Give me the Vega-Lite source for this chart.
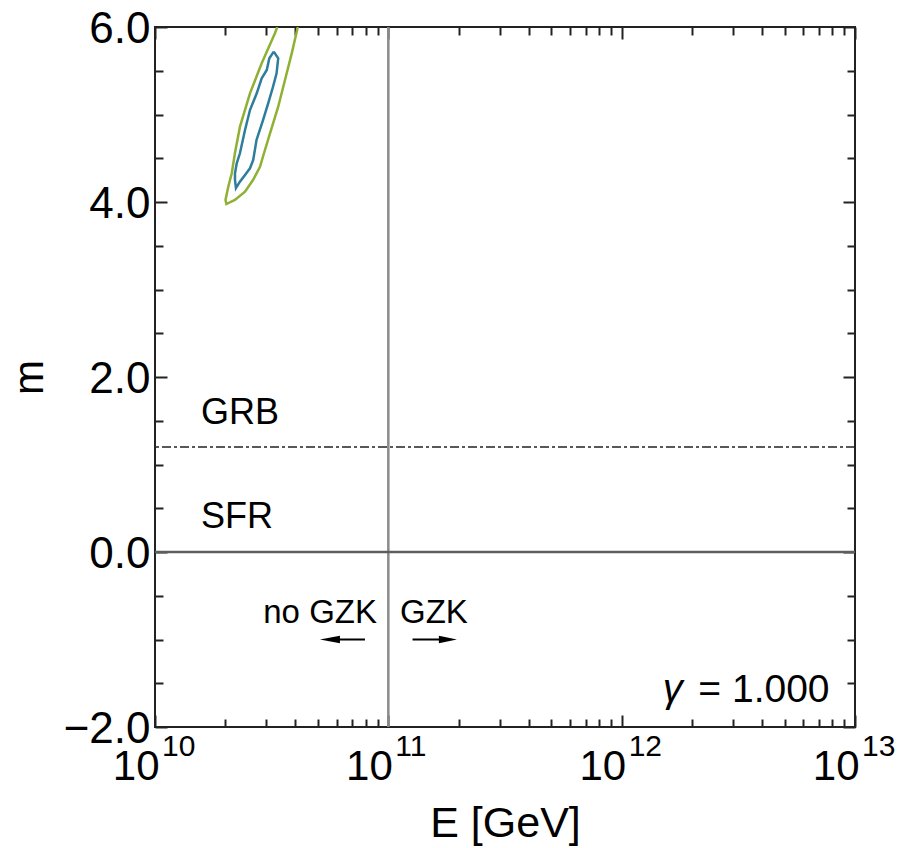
{
  "$schema": "https://vega.github.io/schema/vega-lite/v6.json",
  "width": 700,
  "height": 700,
  "autosize": "none",
  "padding": {"left": 155, "top": 27, "right": 44, "bottom": 121},
  "background": "white",
  "config": {
    "view": {"stroke": "#222", "strokeWidth": 2},
    "font": "Liberation Sans",
    "axis": {"labelFont": "Liberation Sans", "titleFont": "Liberation Sans", "labelColor": "#000", "titleColor": "#000", "grid": false, "domain": false}
  },
  "datasets": {
    "contours": [
      {"c": "outer", "i": 0, "E": 3.342e10, "m": 6.0},
      {"c": "outer", "i": 1, "E": 3.266e10, "m": 5.928},
      {"c": "outer", "i": 2, "E": 2.866e10, "m": 5.585},
      {"c": "outer", "i": 3, "E": 2.553e10, "m": 5.242},
      {"c": "outer", "i": 4, "E": 2.313e10, "m": 4.861},
      {"c": "outer", "i": 5, "E": 2.20e10, "m": 4.557},
      {"c": "outer", "i": 6, "E": 2.133e10, "m": 4.328},
      {"c": "outer", "i": 7, "E": 2.061e10, "m": 4.175},
      {"c": "outer", "i": 8, "E": 2.005e10, "m": 4.023},
      {"c": "outer", "i": 9, "E": 2.023e10, "m": 3.977},
      {"c": "outer", "i": 10, "E": 2.20e10, "m": 4.023},
      {"c": "outer", "i": 11, "E": 2.431e10, "m": 4.118},
      {"c": "outer", "i": 12, "E": 2.63e10, "m": 4.251},
      {"c": "outer", "i": 13, "E": 2.818e10, "m": 4.403},
      {"c": "outer", "i": 14, "E": 2.931e10, "m": 4.557},
      {"c": "outer", "i": 15, "E": 3.111e10, "m": 4.785},
      {"c": "outer", "i": 16, "E": 3.373e10, "m": 5.089},
      {"c": "outer", "i": 17, "E": 3.606e10, "m": 5.394},
      {"c": "outer", "i": 18, "E": 3.855e10, "m": 5.699},
      {"c": "outer", "i": 19, "E": 4.093e10, "m": 6.0},
      {"c": "inner", "i": 0, "E": 3.228e10, "m": 5.718},
      {"c": "inner", "i": 1, "E": 3.373e10, "m": 5.642},
      {"c": "inner", "i": 2, "E": 3.319e10, "m": 5.471},
      {"c": "inner", "i": 3, "E": 3.206e10, "m": 5.318},
      {"c": "inner", "i": 4, "E": 3.055e10, "m": 5.128},
      {"c": "inner", "i": 5, "E": 2.904e10, "m": 4.937},
      {"c": "inner", "i": 6, "E": 2.723e10, "m": 4.709},
      {"c": "inner", "i": 7, "E": 2.636e10, "m": 4.48},
      {"c": "inner", "i": 8, "E": 2.553e10, "m": 4.385},
      {"c": "inner", "i": 9, "E": 2.431e10, "m": 4.309},
      {"c": "inner", "i": 10, "E": 2.312e10, "m": 4.232},
      {"c": "inner", "i": 11, "E": 2.223e10, "m": 4.16},
      {"c": "inner", "i": 12, "E": 2.202e10, "m": 4.251},
      {"c": "inner", "i": 13, "E": 2.202e10, "m": 4.328},
      {"c": "inner", "i": 14, "E": 2.240e10, "m": 4.442},
      {"c": "inner", "i": 15, "E": 2.312e10, "m": 4.557},
      {"c": "inner", "i": 16, "E": 2.431e10, "m": 4.823},
      {"c": "inner", "i": 17, "E": 2.553e10, "m": 5.051},
      {"c": "inner", "i": 18, "E": 2.729e10, "m": 5.242},
      {"c": "inner", "i": 19, "E": 2.866e10, "m": 5.414},
      {"c": "inner", "i": 20, "E": 3.013e10, "m": 5.509},
      {"c": "inner", "i": 21, "E": 3.090e10, "m": 5.642},
      {"c": "inner", "i": 22, "E": 3.228e10, "m": 5.718}
    ],
    "vline": [{"E": 1e11}],
    "zeroline": [{"m": 0}],
    "dashline": [{"m": 1.2}],
    "xexp": [
      {"E": 1e10, "exp": "10"},
      {"E": 1e11, "exp": "11"},
      {"E": 1e12, "exp": "12"},
      {"E": 1e13, "exp": "13"}
    ],
    "srcText": [
      {"E": 1.575e10, "m": 1.46, "label": "GRB"},
      {"E": 1.575e10, "m": 0.27, "label": "SFR"}
    ],
    "gzkText": [{"E": 1.122e11, "m": -0.815, "label": "GZK"}],
    "noGzkText": [{"E": 8.94e10, "m": -0.815, "label": "no GZK"}],
    "valText": [{"E": 7.78e12, "m": -1.714, "label": "= 1.000"}],
    "gammaText": [{"E": 1.50e12, "m": -1.714, "label": "γ"}],
    "shafts": [
      {"E1": 5.62e10, "E2": 7.94e10, "m": -1.0},
      {"E1": 1.27e11, "E2": 1.80e11, "m": -1.0}
    ],
    "headLeft": [{"E": 5.62e10, "m": -1.0}],
    "headRight": [{"E": 1.80e11, "m": -1.0}]
  },
  "resolve": {"axis": {"x": "independent", "y": "independent"}},
  "layer": [
    {
      "data": {"name": "vline"},
      "mark": {"type": "rule", "color": "#8a8a8a", "strokeWidth": 2.5},
      "encoding": {
        "x": {"field": "E", "type": "quantitative", "scale": {"type": "log", "domain": [1e10, 1e13], "nice": false}, "axis": null}
      }
    },
    {
      "data": {"name": "zeroline"},
      "mark": {"type": "rule", "color": "#5e5e5e", "strokeWidth": 2.5},
      "encoding": {
        "y": {"field": "m", "type": "quantitative", "scale": {"domain": [-2, 6], "nice": false, "zero": false}, "axis": null}
      }
    },
    {
      "data": {"name": "dashline"},
      "mark": {"type": "rule", "color": "#222222", "strokeWidth": 1.6, "strokeDash": [9, 3, 3, 3]},
      "encoding": {
        "y": {"field": "m", "type": "quantitative", "scale": {"domain": [-2, 6], "nice": false, "zero": false}, "axis": null}
      }
    },
    {
      "data": {"name": "contours"},
      "mark": {"type": "line", "strokeWidth": 2.5, "clip": true},
      "encoding": {
        "x": {"field": "E", "type": "quantitative", "scale": {"type": "log", "domain": [1e10, 1e13], "nice": false},
          "axis": {"orient": "bottom", "values": [1e10, 1e11, 1e12, 1e13], "labelExpr": "'10'", "labelAlign": "right", "labelOffset": 4, "labelBaseline": "alphabetic", "labelPadding": 52, "labelFontSize": 42, "labelFlush": false, "labelOverlap": false, "ticks": false,
            "title": "E [GeV]", "titleFontSize": 43, "titleFontWeight": "normal", "titleX": 350, "titleY": 109, "titleBaseline": "alphabetic", "titleAlign": "center"}},
        "y": {"field": "m", "type": "quantitative", "scale": {"domain": [-2, 6], "nice": false, "zero": false},
          "axis": {"orient": "left", "values": [-2, 0, 2, 4, 6], "format": ".1f", "labelFontSize": 44, "labelAlign": "right", "labelBaseline": "alphabetic", "labelOffset": 15, "labelPadding": 5, "labelFlush": false, "labelOverlap": false, "ticks": false,
            "title": "m", "titleFontSize": 42, "titleFontWeight": "normal", "titleAngle": -90, "titleX": -113, "titleY": 350, "titleBaseline": "alphabetic", "titleAlign": "center"}},
        "color": {"field": "c", "type": "nominal", "scale": {"domain": ["outer", "inner"], "range": ["#8FB032", "#2E7D9C"]}, "legend": null},
        "detail": {"field": "c"},
        "order": {"field": "i", "type": "quantitative"}
      }
    },
    {
      "data": {"name": "xexp"},
      "mark": {"type": "text", "align": "left", "baseline": "alphabetic", "fontSize": 30, "dx": 7, "dy": 29, "color": "#000"},
      "encoding": {
        "x": {"field": "E", "type": "quantitative", "scale": {"type": "log", "domain": [1e10, 1e13], "nice": false}, "axis": null},
        "y": {"datum": -2, "type": "quantitative", "scale": {"domain": [-2, 6], "nice": false, "zero": false}, "axis": null},
        "text": {"field": "exp"}
      }
    },
    {
      "data": {"name": "srcText"},
      "mark": {"type": "text", "align": "left", "baseline": "alphabetic", "fontSize": 36, "color": "#000"},
      "encoding": {
        "x": {"field": "E", "type": "quantitative", "scale": {"type": "log", "domain": [1e10, 1e13], "nice": false},
          "axis": {"orient": "bottom", "values": [1e10, 1e11, 1e12, 1e13], "labels": false, "title": null, "tickSize": -12, "tickWidth": 2, "tickColor": "#222"}},
        "y": {"field": "m", "type": "quantitative", "scale": {"domain": [-2, 6], "nice": false, "zero": false},
          "axis": {"orient": "left", "values": [-2, 0, 2, 4, 6], "labels": false, "title": null, "tickSize": -12, "tickWidth": 2, "tickColor": "#222"}},
        "text": {"field": "label"}
      }
    },
    {
      "data": {"name": "gzkText"},
      "mark": {"type": "text", "align": "left", "baseline": "alphabetic", "fontSize": 33, "color": "#000"},
      "encoding": {
        "x": {"field": "E", "type": "quantitative", "scale": {"type": "log", "domain": [1e10, 1e13], "nice": false},
          "axis": {"orient": "bottom", "values": [2e10, 3e10, 4e10, 5e10, 6e10, 7e10, 8e10, 9e10, 2e11, 3e11, 4e11, 5e11, 6e11, 7e11, 8e11, 9e11, 2e12, 3e12, 4e12, 5e12, 6e12, 7e12, 8e12, 9e12], "labels": false, "title": null, "tickSize": -8, "tickWidth": 2, "tickColor": "#222"}},
        "y": {"field": "m", "type": "quantitative", "scale": {"domain": [-2, 6], "nice": false, "zero": false},
          "axis": {"orient": "left", "values": [-1.5, -1, -0.5, 0.5, 1, 1.5, 2.5, 3, 3.5, 4.5, 5, 5.5], "labels": false, "title": null, "tickSize": -8, "tickWidth": 2, "tickColor": "#222"}},
        "text": {"field": "label"}
      }
    },
    {
      "data": {"name": "noGzkText"},
      "mark": {"type": "text", "align": "right", "baseline": "alphabetic", "fontSize": 33, "color": "#000"},
      "encoding": {
        "x": {"field": "E", "type": "quantitative", "scale": {"type": "log", "domain": [1e10, 1e13], "nice": false}, "axis": null},
        "y": {"field": "m", "type": "quantitative", "scale": {"domain": [-2, 6], "nice": false, "zero": false}, "axis": null},
        "text": {"field": "label"}
      }
    },
    {
      "data": {"name": "shafts"},
      "mark": {"type": "rule", "color": "#000", "strokeWidth": 2},
      "encoding": {
        "x": {"field": "E1", "type": "quantitative", "scale": {"type": "log", "domain": [1e10, 1e13], "nice": false},
          "axis": {"orient": "top", "values": [1e10, 1e11, 1e12, 1e13], "labels": false, "title": null, "tickSize": -12, "tickWidth": 2, "tickColor": "#222"}},
        "x2": {"field": "E2"},
        "y": {"field": "m", "type": "quantitative", "scale": {"domain": [-2, 6], "nice": false, "zero": false},
          "axis": {"orient": "right", "values": [-2, 0, 2, 4, 6], "labels": false, "title": null, "tickSize": -12, "tickWidth": 2, "tickColor": "#222"}}
      }
    },
    {
      "data": {"name": "headLeft"},
      "mark": {"type": "point", "shape": "M-1,0L1,-0.38L1,0.38Z", "size": 400, "filled": true, "color": "#000", "opacity": 1, "strokeWidth": 0},
      "encoding": {
        "x": {"field": "E", "type": "quantitative", "scale": {"type": "log", "domain": [1e10, 1e13], "nice": false}, "axis": null},
        "y": {"field": "m", "type": "quantitative", "scale": {"domain": [-2, 6], "nice": false, "zero": false}, "axis": null}
      }
    },
    {
      "data": {"name": "headRight"},
      "mark": {"type": "point", "shape": "M1,0L-1,-0.42L-1,0.42Z", "size": 324, "filled": true, "color": "#000", "opacity": 1, "strokeWidth": 0},
      "encoding": {
        "x": {"field": "E", "type": "quantitative", "scale": {"type": "log", "domain": [1e10, 1e13], "nice": false}, "axis": null},
        "y": {"field": "m", "type": "quantitative", "scale": {"domain": [-2, 6], "nice": false, "zero": false}, "axis": null}
      }
    },
    {
      "data": {"name": "valText"},
      "mark": {"type": "text", "align": "right", "baseline": "alphabetic", "fontSize": 39, "color": "#000"},
      "encoding": {
        "x": {"field": "E", "type": "quantitative", "scale": {"type": "log", "domain": [1e10, 1e13], "nice": false},
          "axis": {"orient": "top", "values": [2e10, 3e10, 4e10, 5e10, 6e10, 7e10, 8e10, 9e10, 2e11, 3e11, 4e11, 5e11, 6e11, 7e11, 8e11, 9e11, 2e12, 3e12, 4e12, 5e12, 6e12, 7e12, 8e12, 9e12], "labels": false, "title": null, "tickSize": -8, "tickWidth": 2, "tickColor": "#222"}},
        "y": {"field": "m", "type": "quantitative", "scale": {"domain": [-2, 6], "nice": false, "zero": false},
          "axis": {"orient": "right", "values": [-1.5, -1, -0.5, 0.5, 1, 1.5, 2.5, 3, 3.5, 4.5, 5, 5.5], "labels": false, "title": null, "tickSize": -8, "tickWidth": 2, "tickColor": "#222"}},
        "text": {"field": "label"}
      }
    },
    {
      "data": {"name": "gammaText"},
      "mark": {"type": "text", "align": "left", "baseline": "alphabetic", "fontSize": 40, "fontStyle": "italic", "color": "#000"},
      "encoding": {
        "x": {"field": "E", "type": "quantitative", "scale": {"type": "log", "domain": [1e10, 1e13], "nice": false}, "axis": null},
        "y": {"field": "m", "type": "quantitative", "scale": {"domain": [-2, 6], "nice": false, "zero": false}, "axis": null},
        "text": {"field": "label"}
      }
    }
  ]
}
